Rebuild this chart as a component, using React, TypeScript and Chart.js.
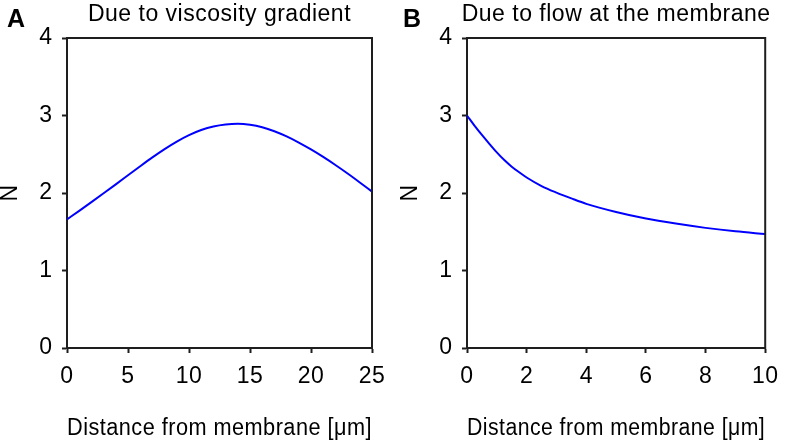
import { useEffect, useRef } from "react";
import { Chart, registerables } from "chart.js";

Chart.register(...registerables);

const FONT = '"Liberation Sans", Arial, Helvetica, sans-serif';
const INK = "#000000";
const AXIS = "#1e1e1e";
const CURVE = "#0000ff";
const SPACING = "0.5px";

// Panel A: N versus distance from the membrane, caused by the viscosity gradient
const distanceA = [0, 1, 2, 3, 4, 5, 6, 7, 8, 9, 10, 11, 12, 13, 14, 15, 16, 17, 18, 19, 20, 21, 22, 23, 24, 25];
const nViscosity = [
  1.66, 1.77, 1.882, 1.996, 2.112, 2.229, 2.346, 2.46, 2.567, 2.664, 2.747, 2.813, 2.859, 2.885, 2.894, 2.881,
  2.849, 2.797, 2.73, 2.651, 2.562, 2.465, 2.361, 2.251, 2.136, 2.018,
];

// Panel B: N versus distance from the membrane, caused by flow at the membrane
const distanceB = [0, 0.25, 0.5, 0.75, 1, 1.25, 1.5, 1.75, 2, 2.5, 3, 3.5, 4, 5, 6, 7, 8, 9, 10];
const nFlow = [
  3.0, 2.87, 2.75, 2.635, 2.525, 2.425, 2.34, 2.267, 2.2, 2.09, 2.005, 1.93, 1.86, 1.755, 1.67, 1.605, 1.55, 1.505,
  1.47,
];

// Axis ranges and tick spacing
const xRangeA = [0, 25];
const xStepA = 5;
const xRangeB = [0, 10];
const xStepB = 2;
const yRange = [0, 4];
const yStep = 1;

const xAxisTitle = "Distance from membrane [μm]";
const yAxisTitle = "N";

type PanelProps = {
  letter: string;
  letterX: number;
  title: string;
  xs: number[];
  ys: number[];
  xRange: number[];
  xStep: number;
  width: number;
  padRight: number;
};

function Panel({ letter, letterX, title, xs, ys, xRange, xStep, width, padRight }: PanelProps) {
  const ref = useRef<HTMLCanvasElement>(null);

  useEffect(() => {
    const canvas = ref.current;
    if (!canvas) return;

    const panelText = {
      id: "panelText",
      beforeDraw(chart: any) {
        chart.ctx.letterSpacing = SPACING;
      },
      afterDraw(chart: any) {
        const { ctx, chartArea: a } = chart;
        ctx.save();
        // top and right frame lines
        ctx.strokeStyle = AXIS;
        ctx.lineWidth = 2;
        ctx.beginPath();
        ctx.moveTo(a.left - 1, a.top);
        ctx.lineTo(a.right, a.top);
        ctx.lineTo(a.right, a.bottom + 1);
        ctx.stroke();
        // panel title
        ctx.fillStyle = INK;
        ctx.textBaseline = "alphabetic";
        ctx.letterSpacing = SPACING;
        ctx.font = `23px ${FONT}`;
        ctx.textAlign = "center";
        ctx.fillText(title, (a.left + a.right) / 2, 21);
        // panel letter
        ctx.letterSpacing = "0px";
        ctx.font = `bold 25px ${FONT}`;
        ctx.textAlign = "left";
        ctx.fillText(letter, letterX, 26.5);
        ctx.restore();
      },
    };

    const tickFont = { family: FONT, size: 23 };

    const chart = new Chart(canvas, {
      type: "line",
      data: {
        datasets: [
          {
            data: xs.map((x, i) => ({ x, y: ys[i] })),
            borderColor: CURVE,
            borderWidth: 2,
            pointRadius: 0,
            cubicInterpolationMode: "monotone",
            fill: false,
          },
        ],
      },
      options: {
        responsive: false,
        animation: false,
        devicePixelRatio: 1,
        layout: { padding: { top: 38, right: padRight, bottom: 0, left: 0 } },
        plugins: {
          legend: { display: false },
          title: { display: false },
          tooltip: { enabled: false },
        },
        scales: {
          x: {
            type: "linear",
            min: xRange[0],
            max: xRange[1],
            afterFit: (scale: any) => {
              scale.height = 97;
            },
            ticks: { stepSize: xStep, color: INK, font: tickFont, padding: 10, maxRotation: 0 },
            grid: {
              drawOnChartArea: false,
              drawTicks: true,
              tickLength: 5,
              tickWidth: 2,
              tickColor: AXIS,
            },
            border: { display: true, color: AXIS, width: 2 },
            title: {
              display: true,
              text: xAxisTitle,
              color: INK,
              font: { family: FONT, size: 23 },
              padding: { top: 0, bottom: 2.7 },
            },
          },
          y: {
            type: "linear",
            min: yRange[0],
            max: yRange[1],
            afterFit: (scale: any) => {
              scale.width = 67;
            },
            ticks: { stepSize: yStep, color: INK, font: tickFont, padding: 9.5 },
            grid: {
              drawOnChartArea: false,
              drawTicks: true,
              tickLength: 5,
              tickWidth: 2,
              tickColor: AXIS,
            },
            border: { display: true, color: AXIS, width: 2 },
            title: {
              display: true,
              text: yAxisTitle,
              color: INK,
              font: { family: FONT, size: 23, lineHeight: 0.91 },
              padding: 0,
            },
          },
        },
      },
      plugins: [panelText],
    } as any);

    return () => chart.destroy();
  }, [letter, letterX, title, xs, ys, xRange, xStep, width, padRight]);

  return <canvas ref={ref} width={width} height={445} style={{ display: "block", width, height: 445 }} />;
}

export default function App() {
  return (
    <div
      style={{
        position: "fixed",
        left: 0,
        top: 0,
        width: 788,
        height: 445,
        display: "flex",
        background: "#ffffff",
      }}
    >
      <Panel
        letter="A"
        letterX={7}
        title="Due to viscosity gradient"
        xs={distanceA}
        ys={nViscosity}
        xRange={xRangeA}
        xStep={xStepA}
        width={400}
        padRight={28}
      />
      <Panel
        letter="B"
        letterX={3}
        title="Due to flow at the membrane"
        xs={distanceB}
        ys={nFlow}
        xRange={xRangeB}
        xStep={xStepB}
        width={388}
        padRight={14}
      />
    </div>
  );
}
